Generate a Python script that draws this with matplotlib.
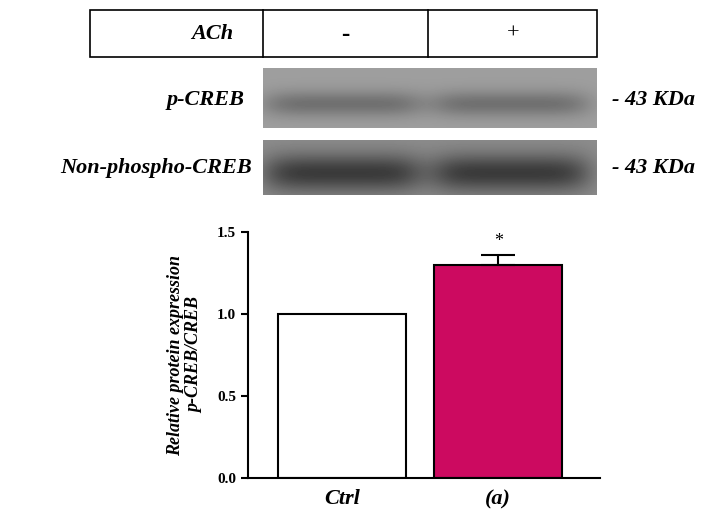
import numpy as np
import matplotlib
matplotlib.use("Agg")
import matplotlib.pyplot as plt
from matplotlib.patches import Rectangle

categories = ["Ctrl", "(a)"]
values = [1.0, 1.30]
errors = [0.0, 0.06]
bar_colors = ["white", "#cc0a60"]
yticks = [0.0, 0.5, 1.0, 1.5]
ytick_labels = ["0.0", "0.5", "1.0", "1.5"]

W, H = 720, 519
fig = plt.figure(figsize=(7.2, 5.19), dpi=100)
serif = "Liberation Serif"

def fx(x): return x / W
def fy(y): return 1 - y / H

ov = fig.add_axes([0, 0, 1, 1])
ov.axis("off")

ov.add_patch(Rectangle((90, 10), 507, 47, fill=False, lw=1.2, ec="black"))
for xl in (263, 428):
    ov.plot([xl, xl], [10, 57], color="black", lw=1.2)
ov.text(212, 34, "ACh", ha="center", va="center", fontsize=16, style="italic", weight="bold", family=serif)
ov.text(345, 34, "-", ha="center", va="center", fontsize=18, weight="bold", family=serif)
ov.text(513, 34, "+", ha="center", va="center", fontsize=16, family=serif)

def blot(y0, y1, strength, bg):
    h = y1 - y0
    xs = np.linspace(0, 1, 334)
    ys = np.linspace(0, 1, h)
    X, Y = np.meshgrid(xs, ys)
    lane = np.exp(-((X - 0.24) / 0.24) ** 6) + np.exp(-((X - 0.74) / 0.24) ** 6)
    band = np.exp(-((Y - 0.6) / strength[1]) ** 2)
    img = bg - strength[0] * lane * band
    ov.imshow(img, cmap="gray", vmin=0, vmax=1, extent=(263, 597, y1, y0), aspect="auto", zorder=1)

blot(68, 128, (0.18, 0.22), 0.62)
blot(140, 195, (0.32, 0.35), 0.55)
ov.set_xlim(0, W); ov.set_ylim(H, 0)

ov.text(245, 100, "p-CREB", ha="right", va="center", fontsize=16, style="italic", weight="bold", family=serif)
ov.text(252, 168, "Non-phospho-CREB", ha="right", va="center", fontsize=16, style="italic", weight="bold", family=serif)
for y in (100, 168):
    ov.text(612, y, "- 43 KDa", ha="left", va="center", fontsize=16, style="italic", weight="bold", family=serif)

ax = fig.add_axes([fx(248), fy(478), 352 / W, 246 / H])
x = np.arange(len(categories))
ax.bar(x, values, width=0.82, color=bar_colors, edgecolor="black", linewidth=1.5)
ax.errorbar(x[1:], values[1:], yerr=[[0] * (len(x) - 1), errors[1:]], fmt="none",
            ecolor="black", elinewidth=1.5, capsize=12, capthick=1.5)
ax.text(x[1], values[1] + errors[1] + 0.03, "*", ha="center", va="bottom", fontsize=13, family=serif)
ax.set_xlim(-0.6, 1.65)
ax.set_ylim(0, 1.5)
ax.set_yticks(yticks)
ax.set_yticklabels(ytick_labels, fontsize=11, weight="bold", family=serif)
ax.set_xticks(x)
ax.set_xticklabels(categories, fontsize=16, weight="bold", style="italic", family=serif)
ax.tick_params(axis="x", length=0, pad=8)
ax.tick_params(axis="y", width=1.5, length=5)
for s in ("top", "right"):
    ax.spines[s].set_visible(False)
for s in ("left", "bottom"):
    ax.spines[s].set_linewidth(1.5)
ax.set_ylabel("Relative protein expression\np-CREB/CREB", fontsize=13, weight="bold", style="italic", family=serif, labelpad=10)

fig.savefig("out.png", dpi=100)
